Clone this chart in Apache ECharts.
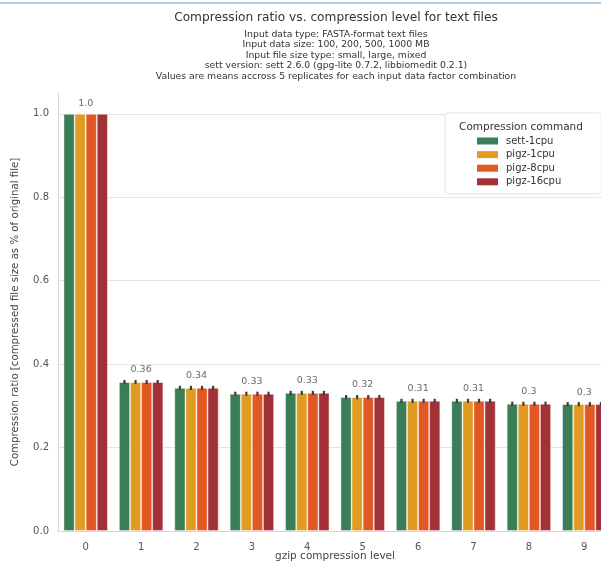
<!DOCTYPE html>
<html>
<head>
<meta charset="utf-8">
<script src="https://cdn.jsdelivr.net/npm/echarts@6/dist/echarts.min.js"></script>
<style>html,body{margin:0;padding:0;background:#fff;}#c{width:601px;height:562px;}</style>
</head>
<body>
<div id="c"></div>
<script>
// ---- data ----
const levels = ['0','1','2','3','4','5','6','7','8','9'];
const seriesNames = ['sett-1cpu','pigz-1cpu','pigz-8cpu','pigz-16cpu'];
const sett1 = [1.0, 0.357, 0.343, 0.329, 0.331, 0.321, 0.312, 0.312, 0.305, 0.304];
const pigz1 = [1.0, 0.357, 0.343, 0.329, 0.331, 0.321, 0.312, 0.312, 0.305, 0.304];
const pigz8 = [1.0, 0.357, 0.343, 0.329, 0.331, 0.321, 0.312, 0.312, 0.305, 0.304];
const pigz16 = [1.0, 0.357, 0.343, 0.329, 0.331, 0.321, 0.312, 0.312, 0.305, 0.304];
const errHalf = [0, 0.005, 0.005, 0.005, 0.005, 0.005, 0.005, 0.005, 0.005, 0.005];
const groupLabels = ['1.0','0.36','0.34','0.33','0.33','0.32','0.31','0.31','0.3','0.3'];
const yTicks = [0, 0.2, 0.4, 0.6, 0.8, 1.0];
const titleText = 'Compression ratio vs. compression level for text files';
const subLines = [
  'Input data type: FASTA-format text files',
  'Input data size: 100, 200, 500, 1000 MB',
  'Input file size type: small, large, mixed',
  'sett version: sett 2.6.0 (gpg-lite 0.7.2, libbiomedit 0.2.1)',
  'Values are means accross 5 replicates for each input data factor combination'
];
const colors = ['#3a7d56', '#e29b22', '#e25824', '#a33138'];
// ---- build ----
const allVals = [sett1, pigz1, pigz8, pigz16];
const FONT = 'DejaVu Sans';
const barSeries = allVals.map((vals, h) => ({
  name: seriesNames[h],
  type: 'bar',
  data: vals,
  barGap: '0%',
  barCategoryGap: '20%',
  itemStyle: { color: colors[h], borderColor: 'rgba(255,255,255,0.55)', borderWidth: 0.8 },
  z: 2
}));
const errData = [];
allVals.forEach((vals, h) => vals.forEach((v, i) => errData.push([i, v, errHalf[i], h])));
const groupMax = levels.map((l, i) => Math.max(sett1[i], pigz1[i], pigz8[i], pigz16[i]) + errHalf[i]);

const chart = echarts.init(document.getElementById('c'), null, { renderer: 'canvas' });
chart.setOption({
  animation: false,
  textStyle: { fontFamily: FONT },
  color: colors,
  graphic: [
    { type: 'rect', shape: { x: 0, y: 2, width: 601, height: 2 }, style: { fill: '#b0cde1' }, silent: true },
    { type: 'text', x: 336, y: 18, style: { text: titleText, textAlign: 'center', textVerticalAlign: 'middle', fontFamily: FONT, fontSize: 12.2, fill: '#333' } },
    { type: 'text', x: 336, y: 29, style: { text: subLines.join('\n'), textAlign: 'center', textVerticalAlign: 'top', fontFamily: FONT, fontSize: 9.3, lineHeight: 10.5, fill: '#333' } },
    { type: 'text', x: 521, y: 127, z: 100, style: { text: 'Compression command', textAlign: 'center', textVerticalAlign: 'middle', fontFamily: FONT, fontSize: 10.5, fill: '#333' } }
  ],
  legend: {
    data: seriesNames,
    orient: 'vertical',
    left: 445,
    top: 113,
    padding: [23, 40, 7, 32],
    itemWidth: 21,
    itemHeight: 7,
    itemGap: 3.6,
    icon: 'rect',
    backgroundColor: '#fff',
    borderColor: '#e3e3e3',
    borderWidth: 1,
    borderRadius: 3,
    itemStyle: { borderWidth: 0 },
    textStyle: { fontFamily: FONT, fontSize: 10, color: '#333', padding: [0, 0, 0, 3] }
  },
  grid: { left: 58, top: 93, width: 554, height: 438, containLabel: false, outerBoundsMode: 'none' },
  xAxis: {
    type: 'category',
    data: levels,
    axisLine: { show: true, lineStyle: { color: '#d6d6d6', width: 1 } },
    axisTick: { show: false },
    axisLabel: { color: '#555', fontSize: 10, margin: 11, fontFamily: FONT },
    splitLine: { show: false },
    name: 'gzip compression level',
    nameLocation: 'middle',
    nameGap: 20,
    nameMoveOverlap: false,
    nameTextStyle: { color: '#444', fontSize: 10.5, fontFamily: FONT }
  },
  yAxis: {
    type: 'value',
    min: 0,
    max: 1.05,
    interval: 0.2,
    axisLine: { show: true, lineStyle: { color: '#d6d6d6', width: 1 } },
    axisTick: { show: false },
    axisLabel: {
      color: '#555', fontSize: 10, margin: 9, fontFamily: FONT, showMaxLabel: false,
      formatter: v => (yTicks.some(t => Math.abs(t - v) < 1e-9) ? v.toFixed(1) : '')
    },
    splitLine: { show: true, showMaxLine: false, showMinLine: false, lineStyle: { color: '#e3e3e3', width: 1 } },
    name: 'Compression ratio [compressed file size as % of original file]',
    nameLocation: 'middle',
    nameGap: 38,
    nameMoveOverlap: false,
    nameTextStyle: { color: '#444', fontSize: 10.2, fontFamily: FONT }
  },
  series: [
    ...barSeries,
    {
      name: 'err',
      type: 'custom',
      z: 5,
      silent: true,
      data: errData,
      encode: { x: 0, y: 1 },
      renderItem: function (params, api) {
        const i = api.value(0), v = api.value(1), e = api.value(2), h = api.value(3);
        if (e <= 0) return null;
        const bandW = api.size([1, 0])[0];
        const bw = bandW * 0.8 / 4;
        const cx = api.coord([i, v])[0] - bandW * 0.4 + bw * (h + 0.5);
        const y1 = api.coord([i, v + e])[1];
        const y2 = api.coord([i, v - e])[1];
        return { type: 'line', shape: { x1: cx, y1: y1, x2: cx, y2: y2 }, style: { stroke: '#3d3d3d', lineWidth: 2.2 } };
      }
    },
    {
      name: 'labels',
      type: 'scatter',
      symbolSize: 0,
      silent: true,
      z: 6,
      data: groupMax,
      label: {
        show: true, position: 'top', distance: 5,
        color: '#444', fontSize: 9.5, fontFamily: FONT,
        formatter: p => groupLabels[p.dataIndex]
      }
    }
  ]
});
</script>
</body>
</html>
